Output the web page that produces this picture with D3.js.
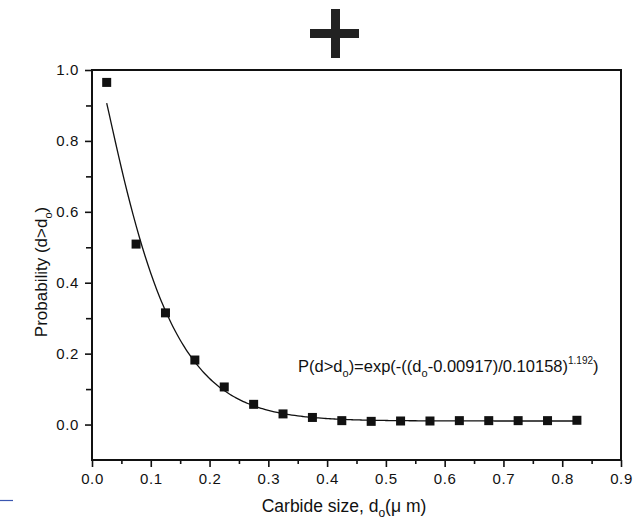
<!DOCTYPE html>
<html>
<head>
<meta charset="utf-8">
<script src="https://cdn.jsdelivr.net/npm/d3@7"></script>
<style>
  html, body { margin: 0; padding: 0; background: #fff; }
  svg { display: block; }
  text { font-family: "Liberation Sans", Arial, Helvetica, sans-serif; fill: #111; }
</style>
</head>
<body>
<script>
// Measured cumulative probability of carbide sizes
const carbideSize = [0.025, 0.075, 0.125, 0.175, 0.225, 0.275, 0.325, 0.375, 0.425,
                     0.475, 0.525, 0.575, 0.625, 0.675, 0.725, 0.775, 0.825];
const probability = [0.965, 0.509, 0.315, 0.182, 0.106, 0.057, 0.030, 0.020, 0.011,
                     0.009, 0.010, 0.010, 0.011, 0.011, 0.011, 0.011, 0.012];

// Weibull fit parameters shown in the annotation
const fitOffset = 0.00917;
const fitScale = 0.10158;
const fitShape = 1.192;
const fitBaseline = 0.01;

const xTicks = [0.0, 0.1, 0.2, 0.3, 0.4, 0.5, 0.6, 0.7, 0.8, 0.9];
const xMinorTicks = [0.05, 0.15, 0.25, 0.35, 0.45, 0.55, 0.65, 0.75, 0.85];
const yTicks = [0.0, 0.2, 0.4, 0.6, 0.8, 1.0];
const yMinorTicks = [0.1, 0.3, 0.5, 0.7, 0.9];

const W = 641, H = 526;
const svg = d3.select("body").append("svg").attr("width", W).attr("height", H);

const x = d3.scaleLinear().domain([0, 0.9]).range([92, 621]);
const y = d3.scaleLinear().domain([-0.1, 1.0]).range([460, 70]);

// "+" panel marker
const plus = svg.append("g").attr("fill", "#222");
plus.append("rect").attr("x", 310).attr("y", 29).attr("width", 49).attr("height", 9);
plus.append("rect").attr("x", 331).attr("y", 9).attr("width", 9).attr("height", 49);

// small blue stroke near the lower left
svg.append("line").attr("x1", 0).attr("x2", 13).attr("y1", 500.5).attr("y2", 500.5)
  .attr("stroke", "#3a56b0").attr("stroke-width", 1.2);

// fitted curve
const curvePts = d3.range(0, 161).map(i => {
  const d = carbideSize[0] + (carbideSize[carbideSize.length - 1] - carbideSize[0]) * i / 160;
  const p = fitBaseline + Math.exp(-Math.pow((d - fitOffset) / fitScale, fitShape));
  return [d, p];
});
svg.append("path")
  .datum(curvePts)
  .attr("fill", "none")
  .attr("stroke", "#111")
  .attr("stroke-width", 1.3)
  .attr("d", d3.line().x(d => x(d[0])).y(d => y(d[1])).curve(d3.curveMonotoneX));

// data points
svg.append("g").selectAll("rect")
  .data(carbideSize.map((d, i) => [d, probability[i]]))
  .join("rect")
  .attr("x", d => x(d[0]) - 4.5)
  .attr("y", d => y(d[1]) - 4.5)
  .attr("width", 9)
  .attr("height", 9)
  .attr("fill", "#111");

// axes
const xAxis = svg.append("g").attr("transform", `translate(0,${y(-0.1)})`)
  .call(d3.axisBottom(x).tickValues(xTicks).tickSize(7).tickPadding(6).tickFormat(d3.format(".1f")));
const xMinor = svg.append("g").attr("transform", `translate(0,${y(-0.1)})`)
  .call(d3.axisBottom(x).tickValues(xMinorTicks).tickSize(4).tickFormat(""));
const yAxis = svg.append("g").attr("transform", `translate(${x(0)},0)`)
  .call(d3.axisLeft(y).tickValues(yTicks).tickSize(7).tickPadding(6).tickFormat(d3.format(".1f")));
const yMinor = svg.append("g").attr("transform", `translate(${x(0)},0)`)
  .call(d3.axisLeft(y).tickValues(yMinorTicks).tickSize(6).tickFormat(""));

[xAxis, xMinor, yAxis, yMinor].forEach(g => {
  g.select(".domain").remove();
  g.selectAll(".tick line").attr("stroke", "#111").attr("stroke-width", 1.6);
  g.selectAll("text").attr("font-size", 15).attr("fill", "#111")
    .attr("letter-spacing", 0.6)
    .style("font-family", '"Liberation Sans", Arial, sans-serif');
});

// frame
svg.append("rect")
  .attr("x", x(0)).attr("y", y(1.0))
  .attr("width", x(0.9) - x(0)).attr("height", y(-0.1) - y(1.0))
  .attr("fill", "none").attr("stroke", "#111").attr("stroke-width", 2);

// axis titles
const xt = svg.append("text").attr("x", 344).attr("y", 512).attr("text-anchor", "middle").attr("font-size", 17.5);
xt.append("tspan").text("Carbide size, d");
xt.append("tspan").attr("font-size", 12).attr("dy", 5).text("o");
xt.append("tspan").attr("dy", -5).text("(μ m)");

const yt = svg.append("text").attr("transform", "translate(47,272) rotate(-90)")
  .attr("text-anchor", "middle").attr("font-size", 17);
yt.append("tspan").text("Probability (d>d");
yt.append("tspan").attr("font-size", 11).attr("dy", 5).text("o");
yt.append("tspan").attr("dy", -5).text(")");

// fit equation
const eq = svg.append("text").attr("x", 298).attr("y", 372).attr("font-size", 16.5);
eq.append("tspan").text("P(d>d");
eq.append("tspan").attr("font-size", 11).attr("dy", 5).text("o");
eq.append("tspan").attr("dy", -5).text(")=exp(-((d");
eq.append("tspan").attr("font-size", 11).attr("dy", 5).text("o");
eq.append("tspan").attr("dy", -5).text(`-${fitOffset.toFixed(5)})/${fitScale.toFixed(5)})`);
eq.append("tspan").attr("font-size", 10).attr("dy", -8).text(fitShape.toFixed(3));
eq.append("tspan").attr("dy", 8).text(")");
</script>
</body>
</html>
